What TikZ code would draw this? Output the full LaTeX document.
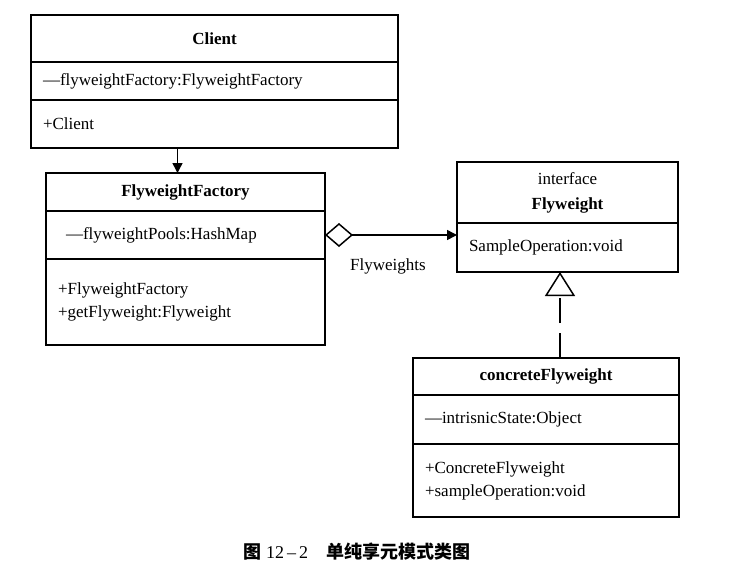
\documentclass[tikz,border=0pt]{standalone}
\usepackage{fontspec}
\setmainfont{Liberation Serif}
\newfontfamily\cjk{Noto Sans CJK SC}
\usetikzlibrary{positioning,arrows.meta}

\begin{document}
\begin{tikzpicture}[x=1pt,y=-1pt,
    font=\fontsize{17}{21}\selectfont,
    part/.style={draw, line width=1.5pt, inner xsep=12pt, inner ysep=0pt, outer sep=0pt, text width=#1, align=left},
    head/.style={part=#1, align=center, font=\fontsize{17}{21}\selectfont\bfseries}]
  \useasboundingbox (0,0) rectangle (730,574);
  % Client
  \node[head=343pt, minimum height=47pt, anchor=north west] (cliTitle) at (31,15) {Client};
  \node[part=343pt, minimum height=38pt, below=0pt of cliTitle] (cliAttr) {—flyweightFactory:FlyweightFactory};
  \node[part=343pt, minimum height=48pt, below=0pt of cliAttr] (cliMeth) {+Client};
  % FlyweightFactory
  \node[head=255pt, minimum height=38pt, anchor=north west] (facTitle) at (46,173) {FlyweightFactory};
  \node[part=239pt, inner xsep=20pt, minimum height=48pt, below=0pt of facTitle] (facAttr) {—flyweightPools:HashMap};
  \node[part=255pt, inner xsep=12pt, minimum height=86pt, below=0pt of facAttr] (facMeth) {+FlyweightFactory\\[2pt]+getFlyweight:Flyweight};
  % Flyweight
  \node[head=197pt, minimum height=61pt, anchor=north west] (flyTitle) at (457,162) {{\mdseries interface}\\[4pt]Flyweight};
  \node[part=197pt, minimum height=49pt, below=0pt of flyTitle] (flyAttr) {SampleOperation:void};
  % concreteFlyweight
  \node[head=242pt, minimum height=37pt, anchor=north west] (conTitle) at (413,358) {concreteFlyweight};
  \node[part=242pt, minimum height=49pt, below=0pt of conTitle] (conAttr) {—intrisnicState:Object};
  \node[part=242pt, minimum height=73pt, below=0pt of conAttr] (conMeth) {+ConcreteFlyweight\\[2pt]+sampleOperation:void};
  % connectors
  \draw[line width=1.5pt, -{Triangle[length=10pt,width=10pt]}] ([xshift=-8pt]facTitle.north |- cliMeth.south) -- ([xshift=-8pt]facTitle.north);
  \draw[line width=1.5pt, {Diamond[open,length=28pt,width=24pt]}-{Triangle[length=10pt,width=10pt]}] (facAttr.east) -- (facAttr.east -| flyTitle.west);
  \node (lblFw) at (388,266) {Flyweights};
  \coordinate (real) at (560,358);
  \draw[line width=1.5pt, dash pattern=on 25pt off 10pt, -{Triangle[open,length=24pt,width=30pt]}] (real) -- (real |- flyAttr.south);
  % caption
  \node (caption) at (357,552) {\fontsize{18}{21}\selectfont\cjk\bfseries 图 {\rmfamily\mdseries 12\,–\,2}\quad 单纯享元模式类图};
\end{tikzpicture}
\end{document}
